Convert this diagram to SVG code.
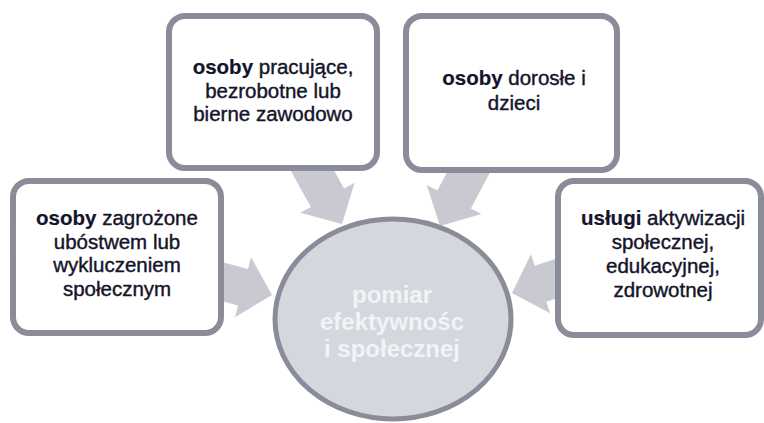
<svg xmlns="http://www.w3.org/2000/svg" width="764" height="423" viewBox="0 0 764 423">
<defs>
<style>
.arrow{fill:#c9cad1;}
.box{fill:#ffffff;stroke:#8b8c9a;stroke-width:6;}
.t{font-family:"Liberation Sans",Arial,sans-serif;font-size:20.5px;fill:#14142a;stroke:#14142a;stroke-width:0.4;text-anchor:middle;}
.b{font-weight:bold;stroke-width:0.2;}
.ct{font-family:"Liberation Sans",Arial,sans-serif;font-size:24px;font-weight:bold;fill:#f2f3f6;text-anchor:middle;}
</style>
<polygon id="arr" points="-75,-19 -30,-19 -30,-31 0,0 -30,31 -30,19 -75,19"/>
</defs>
<rect width="764" height="423" fill="#ffffff"/>
<g id="connectors">
<use href="#arr" class="arrow" transform="translate(342,224) rotate(61)"/>
<use href="#arr" class="arrow" transform="translate(440,226) rotate(118)"/>
<use href="#arr" class="arrow" transform="translate(272,295) rotate(15)"/>
<use href="#arr" class="arrow" transform="translate(512,293) rotate(162)"/>
</g>
<g id="node-left">
<rect class="box" x="13" y="181" width="208" height="152" rx="16"/>
<text class="t" x="117" y="225"><tspan class="b">osoby</tspan> zagrożone</text>
<text class="t" x="117" y="248.5">ubóstwem lub</text>
<text class="t" x="117" y="272">wykluczeniem</text>
<text class="t" x="117" y="295.5">społecznym</text>
</g>
<g id="node-topleft">
<rect class="box" x="169" y="16" width="208" height="152" rx="16"/>
<text class="t" x="273" y="74"><tspan class="b">osoby</tspan> pracujące,</text>
<text class="t" x="273" y="97.5">bezrobotne lub</text>
<text class="t" x="273" y="121">bierne zawodowo</text>
</g>
<g id="node-topright">
<rect class="box" x="406" y="16" width="211" height="154" rx="16"/>
<text class="t" x="514" y="85"><tspan class="b">osoby</tspan> dorosłe i</text>
<text class="t" x="514" y="110">dzieci</text>
</g>
<g id="node-right">
<rect class="box" x="558" y="181" width="203" height="154" rx="16"/>
<text class="t" x="663" y="225"><tspan class="b">usługi</tspan> aktywizacji</text>
<text class="t" x="663" y="249">społecznej,</text>
<text class="t" x="663" y="273">edukacyjnej,</text>
<text class="t" x="663" y="297">zdrowotnej</text>
</g>
<g id="node-center">
<ellipse cx="393" cy="319" rx="118" ry="100" fill="#d5d7de" stroke="#8b8c9a" stroke-width="5"/>
<text class="ct" x="392" y="303">pomiar</text>
<text class="ct" x="392" y="330">efektywnośc</text>
<text class="ct" x="392" y="357">i społecznej</text>
</g>
</svg>
